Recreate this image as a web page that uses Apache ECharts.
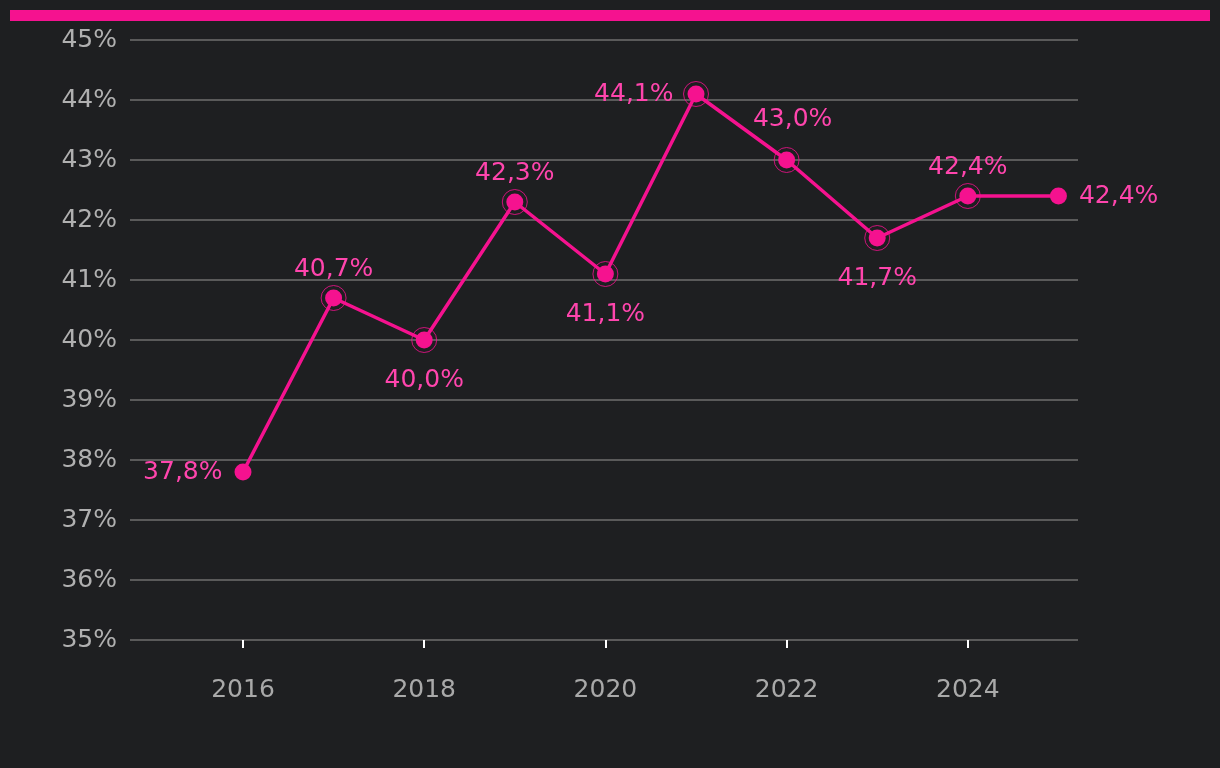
<!DOCTYPE html>
<html><head><meta charset="utf-8">
<script src="https://cdn.jsdelivr.net/npm/echarts@6/dist/echarts.min.js"></script>
<style>html,body{margin:0;padding:0;background:#1e1f21;}#c{width:1220px;height:768px;}</style>
</head><body><div id="c"></div>
<script>
const years = [2016, 2017, 2018, 2019, 2020, 2021, 2022, 2023, 2024, 2025];
const values = [37.8, 40.7, 40.0, 42.3, 41.1, 44.1, 43.0, 41.7, 42.4, 42.4];
const ringYears = [2017, 2018, 2019, 2020, 2021, 2022, 2023, 2024];
const xTickLabels = [2016, 2018, 2020, 2022, 2024];

// label placement (styling only)
const labelPlacement = ['left','top','bottom','top','bottom','left','top','bottom','top','right'];
const labelDistance = [12,8,19,8,19,14,20,19,8,12];
const labelShift = [0,0,0,0,0,0,6,0,0,0];

const PINK = '#f5128f';
const LABEL = '#ff45ad';
const FONT = 'DejaVu Sans';
const fmt = v => v.toFixed(1).replace('.', ',') + '%';

const lineData = years.map((y, i) => ({
  value: [y, values[i]],
  label: { show: true, position: labelPlacement[i], distance: labelDistance[i], offset: [labelShift[i], 0] }
}));
const ringData = ringYears.map(y => [y, values[years.indexOf(y)]]);

const chart = echarts.init(document.getElementById('c'), null, {renderer: 'canvas'});
chart.setOption({
  backgroundColor: '#1e1f21',
  animation: false,
  textStyle: { fontFamily: FONT },
  graphic: [{ type: 'rect', shape: { x: 10, y: 10, width: 1200, height: 11 }, style: { fill: PINK } }],
  grid: { left: 130, right: 142, top: 40, bottom: 128 },
  xAxis: {
    type: 'value', min: 2014.753, max: 2025.216,
    axisLine: { show: false },
    splitLine: { show: false },
    axisTick: { show: true, customValues: xTickLabels, length: 8, lineStyle: { color: '#ffffff', width: 2 } },
    axisLabel: { customValues: xTickLabels, color: '#a9a9a9', fontSize: 25, fontFamily: FONT, margin: 38, formatter: v => String(v) }
  },
  yAxis: {
    type: 'value', min: 35, max: 45, interval: 1,
    axisLine: { show: false }, axisTick: { show: false },
    splitLine: { lineStyle: { color: '#5a5a5a', width: 2 } },
    axisLabel: { color: '#b0b0b0', fontSize: 25, fontFamily: FONT, margin: 13, padding: [4, 0, 0, 0], formatter: v => v + '%' }
  },
  series: [
    {
      type: 'line', data: lineData, symbol: 'circle', symbolSize: 17,
      lineStyle: { color: PINK, width: 3.5 }, itemStyle: { color: PINK },
      label: { color: LABEL, fontSize: 25, fontFamily: FONT, formatter: p => fmt(p.value[1]) },
      z: 3
    },
    {
      type: 'scatter', data: ringData, symbol: 'circle', symbolSize: 25,
      itemStyle: { color: 'rgba(0,0,0,0)', borderColor: PINK, borderWidth: 1 },
      z: 4, silent: true
    }
  ]
});
</script></body></html>
